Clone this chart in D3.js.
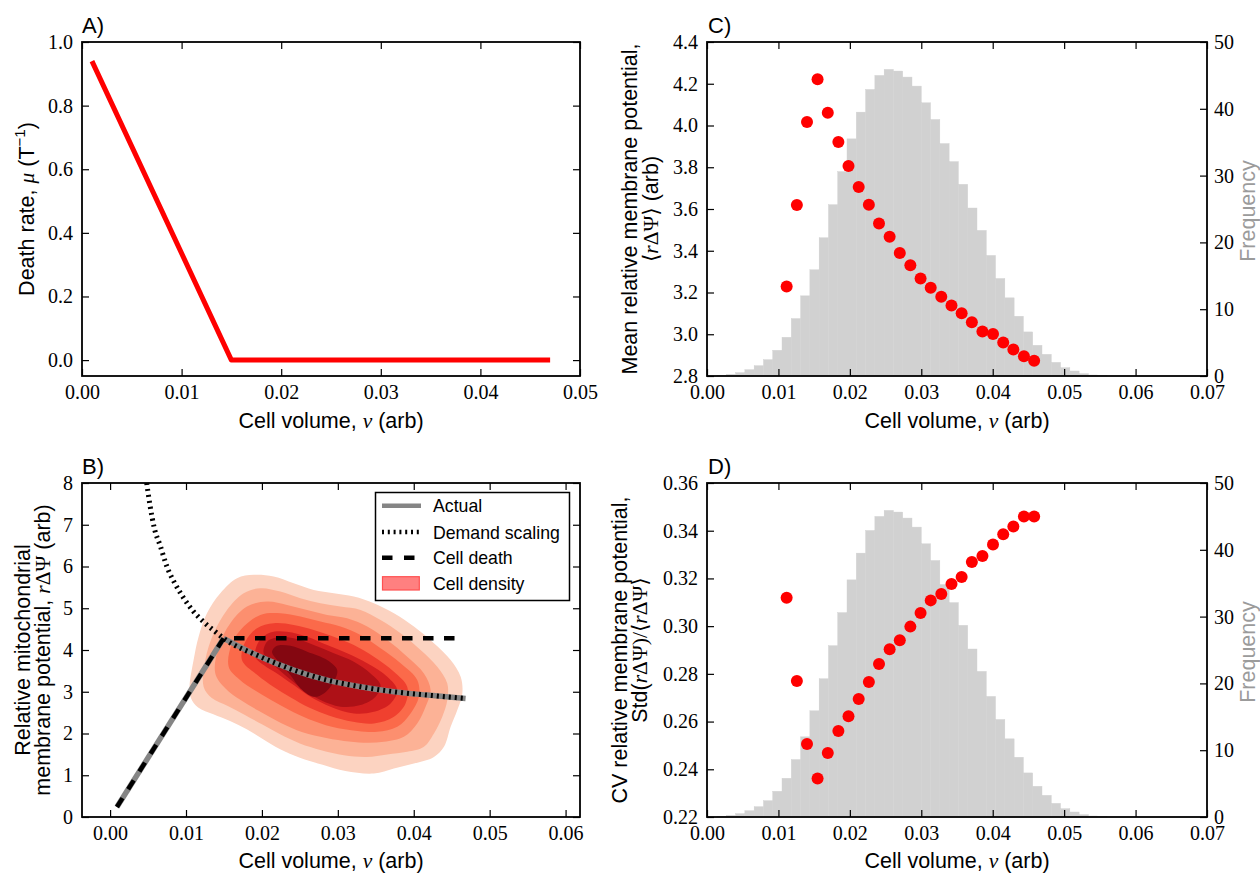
<!DOCTYPE html>
<html>
<head>
<meta charset="utf-8">
<script src="https://cdnjs.cloudflare.com/ajax/libs/d3/7.8.5/d3.min.js"></script>
<style>
  body { margin: 0; background: #fff; }
</style>
</head>
<body>
<svg width="1260" height="873"></svg>
<script>
// ---- data ----
// A) death rate
const deathVolume = [0.001, 0.015, 0.047];
const deathRate = [0.94, 0.0, 0.0];

// B) membrane potential lines
const actualVolume = [0.0009, 0.01495, 0.01979, 0.02419, 0.02858, 0.03298, 0.03738, 0.04178, 0.04683];
const actualPotential = [0.24, 4.28, 3.84, 3.52, 3.28, 3.12, 3.00, 2.92, 2.84];
const demandVolume = [0.00482, 0.00528, 0.00585, 0.0066, 0.00748, 0.00858, 0.00967, 0.0110, 0.01253,
  0.01385, 0.01495, 0.01979, 0.02419, 0.02858, 0.03298, 0.03738, 0.04178, 0.04683];
const demandPotential = [8.0, 7.44, 6.9, 6.5, 6.0, 5.58, 5.25, 4.92, 4.64,
  4.44, 4.28, 3.84, 3.52, 3.28, 3.12, 3.00, 2.92, 2.84];
const cellDeathVolume = [0.0009, 0.01495, 0.0466];
const cellDeathPotential = [0.24, 4.28, 4.28];

// B) cell density contour outlines, outermost to innermost, [volume, potential]
const densityContours = [
  [[0.01047, 3.12], [0.0110, 3.76], [0.01166, 4.32], [0.01276, 4.88], [0.01452, 5.36], [0.01672, 5.72],
   [0.01891, 5.80], [0.02155, 5.76], [0.02419, 5.60], [0.02683, 5.44], [0.02947, 5.36], [0.03211, 5.28],
   [0.03475, 5.12], [0.03739, 4.88], [0.04002, 4.56], [0.04266, 4.16], [0.04486, 3.76], [0.04618, 3.36],
   [0.0464, 2.96], [0.04574, 2.56], [0.04486, 2.16], [0.04398, 1.68], [0.04266, 1.44], [0.04002, 1.28],
   [0.03739, 1.16], [0.03475, 1.04], [0.0310, 1.10], [0.0280, 1.25], [0.0250, 1.42], [0.0224, 1.62],
   [0.0200, 1.88], [0.0180, 2.10], [0.0158, 2.30], [0.0136, 2.46], [0.0116, 2.62], [0.01065, 2.85]],
  [[0.01232, 3.12], [0.01254, 3.76], [0.01364, 4.40], [0.0154, 4.96], [0.0176, 5.36], [0.01979, 5.48],
   [0.02243, 5.40], [0.02507, 5.24], [0.02771, 5.12], [0.03035, 5.04], [0.03299, 4.96], [0.03563, 4.72],
   [0.03827, 4.40], [0.0409, 4.00], [0.0431, 3.60], [0.04442, 3.20], [0.04442, 2.80], [0.04376, 2.40],
   [0.04266, 2.00], [0.04134, 1.68], [0.03914, 1.56], [0.03651, 1.50], [0.0338, 1.44], [0.0308, 1.48],
   [0.0278, 1.60], [0.0250, 1.76], [0.0224, 1.98], [0.0200, 2.22], [0.0177, 2.45], [0.0155, 2.66],
   [0.0134, 2.85]],
  [[0.01386, 3.44], [0.0143, 4.08], [0.01584, 4.64], [0.01803, 5.04], [0.02067, 5.16], [0.02331, 5.08],
   [0.02595, 4.96], [0.02859, 4.84], [0.03123, 4.76], [0.03387, 4.56], [0.03651, 4.24], [0.03914, 3.84],
   [0.04134, 3.44], [0.04222, 3.04], [0.04156, 2.64], [0.04046, 2.24], [0.0387, 1.92], [0.03607, 1.80],
   [0.0334, 1.78], [0.0308, 1.82], [0.0277, 1.92], [0.0246, 2.08], [0.0220, 2.30], [0.0195, 2.55],
   [0.0172, 2.80], [0.0152, 3.08]],
  [[0.01562, 3.60], [0.01606, 4.16], [0.0176, 4.56], [0.01979, 4.84], [0.02243, 4.88], [0.02507, 4.80],
   [0.02771, 4.68], [0.03035, 4.56], [0.03299, 4.36], [0.03563, 4.04], [0.03827, 3.68], [0.04046, 3.28],
   [0.04068, 2.88], [0.03958, 2.48], [0.03783, 2.16], [0.03519, 2.04], [0.0326, 2.06], [0.0292, 2.16],
   [0.0262, 2.34], [0.0236, 2.56], [0.0212, 2.80], [0.0190, 3.04], [0.0170, 3.30]],
  [[0.01737, 3.76], [0.01781, 4.20], [0.01935, 4.52], [0.02155, 4.64], [0.02419, 4.60], [0.02683, 4.48],
   [0.02947, 4.32], [0.03211, 4.12], [0.03475, 3.84], [0.03739, 3.48], [0.03914, 3.12], [0.03892, 2.72],
   [0.03739, 2.40], [0.03475, 2.24], [0.0320, 2.28], [0.0290, 2.42], [0.0262, 2.62], [0.0238, 2.86],
   [0.0215, 3.12], [0.0194, 3.40]],
  [[0.01913, 3.84], [0.01957, 4.20], [0.02111, 4.42], [0.02331, 4.44], [0.02595, 4.32], [0.02859, 4.12],
   [0.03123, 3.92], [0.03387, 3.68], [0.03651, 3.36], [0.03783, 3.04], [0.03695, 2.72], [0.03475, 2.52],
   [0.03211, 2.48], [0.02903, 2.64], [0.02639, 2.88], [0.02419, 3.16], [0.02199, 3.44], [0.02023, 3.64]],
  [[0.02023, 3.92], [0.02067, 4.20], [0.02199, 4.30], [0.02419, 4.28], [0.02683, 4.12], [0.02947, 3.92],
   [0.03211, 3.72], [0.03431, 3.44], [0.03563, 3.16], [0.03497, 2.88], [0.03299, 2.68], [0.03035, 2.64],
   [0.02771, 2.80], [0.02551, 3.04], [0.02331, 3.36], [0.02155, 3.64]],
  [[0.02133, 3.96], [0.02199, 4.10], [0.02375, 4.10], [0.02595, 3.96], [0.02859, 3.76], [0.02991, 3.52],
   [0.02947, 3.24], [0.02815, 2.96], [0.02683, 2.88], [0.02507, 3.08], [0.02375, 3.40], [0.02221, 3.72]]
];
const densityColors = ['#fcd3c1', '#fcb296', '#fc8f6f', '#fb6a4a', '#f0402f', '#d42020', '#ae1117', '#840711'];

// C/D) binned statistics
const binVolume = [0.01115, 0.01258, 0.0140, 0.01548, 0.01691, 0.01839, 0.01981, 0.02124, 0.02266, 0.02408,
  0.02557, 0.02699, 0.02847, 0.0299, 0.03132, 0.0328, 0.03423, 0.03565, 0.03708, 0.03856,
  0.04004, 0.04147, 0.04289, 0.04437, 0.0458];
const meanPotential = [3.229, 3.619, 4.017, 4.221, 4.061, 3.921, 3.806, 3.705, 3.620, 3.531,
  3.467, 3.389, 3.330, 3.267, 3.223, 3.180, 3.138, 3.101, 3.057, 3.013,
  3.001, 2.961, 2.927, 2.895, 2.873];
const cvPotential = [0.3119, 0.2770, 0.2506, 0.2361, 0.2468, 0.2560, 0.2622, 0.2695, 0.2766, 0.2841,
  0.2903, 0.2941, 0.2998, 0.3055, 0.3108, 0.3135, 0.3177, 0.3206, 0.3269, 0.3294,
  0.3342, 0.3385, 0.3418, 0.3460, 0.3460];

// volume histogram (bin edges and counts)
const histEdges = [0.0014, 0.0027, 0.0040, 0.0053, 0.0066, 0.0079, 0.0092, 0.0105, 0.0118, 0.0131,
  0.0144, 0.0157, 0.0170, 0.0183, 0.0196, 0.0209, 0.0222, 0.0235, 0.0248, 0.0261,
  0.0274, 0.0287, 0.0300, 0.0313, 0.0326, 0.0339, 0.0352, 0.0365, 0.0378, 0.0391,
  0.0404, 0.0417, 0.0430, 0.0443, 0.0456, 0.0469, 0.0482, 0.0495, 0.0508, 0.0521,
  0.0534, 0.0547, 0.0560];
const histFreq = [0.1, 0.25, 0.5, 0.95, 1.55, 2.45, 3.85, 5.8, 8.6, 12.0,
  15.9, 20.7, 25.65, 30.6, 35.5, 39.5, 42.9, 45.0, 45.9, 45.65,
  44.75, 43.4, 40.9, 38.4, 34.8, 32.1, 28.7, 25.15, 21.8, 18.05,
  14.6, 11.7, 8.95, 6.6, 4.6, 3.25, 2.05, 1.25, 0.75, 0.35,
  0.15, 0.07];

// tick values
const ticksA_x = [0, 0.01, 0.02, 0.03, 0.04, 0.05];
const ticksA_y = [0, 0.2, 0.4, 0.6, 0.8, 1.0];
const ticksB_x = [0, 0.01, 0.02, 0.03, 0.04, 0.05, 0.06];
const ticksB_y = [0, 1, 2, 3, 4, 5, 6, 7, 8];
const ticksCD_x = [0, 0.01, 0.02, 0.03, 0.04, 0.05, 0.06, 0.07];
const ticksC_y = [2.8, 3.0, 3.2, 3.4, 3.6, 3.8, 4.0, 4.2, 4.4];
const ticksD_y = [0.22, 0.24, 0.26, 0.28, 0.30, 0.32, 0.34, 0.36];
const ticksFreq = [0, 10, 20, 30, 40, 50];

// ---- drawing ----
const svg = d3.select('svg');
const serif = '"Liberation Serif", "DejaVu Serif", serif';
const sans = '"Liberation Sans", Arial, sans-serif';

const colL = [82, 580], colR = [707, 1207];
const rowT = [376, 42], rowB = [817, 483];

const xA = d3.scaleLinear().domain([0, 0.05]).range(colL);
const yA = d3.scaleLinear().domain([-0.05, 1.0]).range(rowT);
const xB = d3.scaleLinear().domain([-0.0037, 0.0619]).range(colL);
const yB = d3.scaleLinear().domain([0, 8]).range(rowB);
const xC = d3.scaleLinear().domain([0, 0.07]).range(colR);
const yC = d3.scaleLinear().domain([2.8, 4.4]).range(rowT);
const fC = d3.scaleLinear().domain([0, 50]).range(rowT);
const xD = d3.scaleLinear().domain([0, 0.07]).range(colR);
const yD = d3.scaleLinear().domain([0.22, 0.36]).range(rowB);
const fD = d3.scaleLinear().domain([0, 50]).range(rowB);

const styleAxis = (g) => {
  g.select('.domain').remove();
  g.attr('font-family', serif).attr('font-size', 20);
  g.selectAll('.tick line').attr('stroke', '#000').attr('stroke-width', 1.2);
  g.selectAll('.tick text').attr('fill', '#000');
};

function frame(x, y, xTicks, yTicks, xFmt, yFmt, freq) {
  const [x0, x1] = x.range();
  const [y0, y1] = y.range();
  const g = svg.append('g');
  g.append('g').attr('transform', `translate(0,${y0})`)
    .call(d3.axisBottom(x).tickValues(xTicks).tickFormat(xFmt).tickSize(-7).tickSizeOuter(0).tickPadding(9))
    .call(styleAxis);
  g.append('g').attr('transform', `translate(0,${y1})`)
    .call(d3.axisTop(x).tickValues(xTicks).tickFormat(() => '').tickSize(-7).tickSizeOuter(0))
    .call(styleAxis);
  g.append('g').attr('transform', `translate(${x0},0)`)
    .call(d3.axisLeft(y).tickValues(yTicks).tickFormat(yFmt).tickSize(-7).tickSizeOuter(0).tickPadding(9))
    .call(styleAxis);
  if (freq) {
    g.append('g').attr('transform', `translate(${x1},0)`)
      .call(d3.axisRight(freq).tickValues(ticksFreq).tickFormat(d3.format('d')).tickSize(-7).tickSizeOuter(0).tickPadding(7))
      .call(styleAxis);
  } else {
    g.append('g').attr('transform', `translate(${x1},0)`)
      .call(d3.axisRight(y).tickValues(yTicks).tickFormat(() => '').tickSize(-7).tickSizeOuter(0))
      .call(styleAxis);
  }
  g.append('rect')
    .attr('x', x0).attr('y', y1)
    .attr('width', x1 - x0).attr('height', y0 - y1)
    .attr('fill', 'none').attr('stroke', '#000').attr('stroke-width', 1.8);
}

// label helpers: parts = [[text, kind]], kind: 's' sans, 'i' italic serif, 'm' upright serif, 'sup'
function label(x, y, rotate, parts, size, color) {
  const t = svg.append('text')
    .attr('transform', `translate(${x},${y})` + (rotate ? ' rotate(-90)' : ''))
    .attr('text-anchor', 'middle')
    .attr('font-size', size)
    .attr('fill', color || '#000')
    .attr('font-family', sans);
  parts.forEach(([txt, kind]) => {
    const s = t.append('tspan').text(txt);
    if (kind === 'i') s.attr('font-family', serif).attr('font-style', 'italic');
    if (kind === 'm') s.attr('font-family', serif);
    if (kind === 'sup') s.attr('font-size', size * 0.7).attr('dy', -size * 0.42);
    if (kind === 'unsup') s.attr('dy', size * 0.42);
  });
  return t;
}
const panelLetter = (x, y, txt) => svg.append('text').attr('x', x).attr('y', y)
  .attr('font-family', sans).attr('font-size', 22).text(txt);

const xLabelParts = [['Cell volume, ', 's'], ['v', 'i'], [' (arb)', 's']];
const LBL = 21.5;

// ---- A ----
svg.append('path')
  .datum(d3.zip(deathVolume, deathRate))
  .attr('fill', 'none').attr('stroke', '#ff0000').attr('stroke-width', 5)
  .attr('stroke-linejoin', 'round')
  .attr('d', d3.line().x(d => xA(d[0])).y(d => yA(d[1])));
frame(xA, yA, ticksA_x, ticksA_y, d3.format('.2f'), d3.format('.1f'));
panelLetter(82, 33, 'A)');
label(331, 428, false, xLabelParts, LBL);
label(34, 209, true, [['Death rate, ', 's'], ['\u03bc', 'i'], [' (T', 's'], ['\u22121', 'sup'], [')', 'unsup']], LBL);

// ---- B ----
const lineB = d3.line().x(d => xB(d[0])).y(d => yB(d[1]));
densityContours.forEach((poly, i) => {
  svg.append('path')
    .datum(poly)
    .attr('fill', densityColors[i])
    .attr('stroke', 'none')
    .attr('d', d3.line().x(d => xB(d[0])).y(d => yB(d[1])).curve(d3.curveCatmullRomClosed.alpha(0.5)));
});
const actualPts = d3.zip(actualVolume, actualPotential);
const gray = '#858585';
svg.append('path').datum(actualPts.slice(0, 2))
  .attr('fill', 'none').attr('stroke', gray).attr('stroke-width', 5.5)
  .attr('d', lineB);
svg.append('path').datum(actualPts.slice(1))
  .attr('fill', 'none').attr('stroke', gray).attr('stroke-width', 5.5)
  .attr('d', lineB.curve(d3.curveMonotoneX));
svg.append('path').datum(d3.zip(demandVolume, demandPotential))
  .attr('fill', 'none').attr('stroke', '#000').attr('stroke-width', 5)
  .attr('stroke-dasharray', '2,4')
  .attr('d', d3.line().x(d => xB(d[0])).y(d => yB(d[1])).curve(d3.curveMonotoneX));
svg.append('path').datum(d3.zip(cellDeathVolume, cellDeathPotential))
  .attr('fill', 'none').attr('stroke', '#000').attr('stroke-width', 4.5)
  .attr('stroke-dasharray', '10.5,10.5')
  .attr('d', d3.line().x(d => xB(d[0])).y(d => yB(d[1])));
frame(xB, yB, ticksB_x, ticksB_y, d3.format('.2f'), d3.format('d'));
panelLetter(82, 474, 'B)');
label(331, 868, false, xLabelParts, LBL);
label(29.5, 650, true, [['Relative mitochondrial', 's']], LBL);
label(50, 650, true, [['membrane potential, ', 's'], ['r', 'i'], ['\u0394\u03a8', 'm'], [' (arb)', 's']], LBL);

// legend
const legendItems = ['Actual', 'Demand scaling', 'Cell death', 'Cell density'];
const lg = svg.append('g');
lg.append('rect').attr('x', 375.5).attr('y', 492.5).attr('width', 194).attr('height', 108)
  .attr('fill', '#fff').attr('stroke', '#000').attr('stroke-width', 1.5);
const legY = [505.7, 532, 557.7, 583.3];
lg.append('line').attr('x1', 382).attr('x2', 421).attr('y1', legY[0]).attr('y2', legY[0])
  .attr('stroke', gray).attr('stroke-width', 4.5);
lg.append('line').attr('x1', 382).attr('x2', 421).attr('y1', legY[1]).attr('y2', legY[1])
  .attr('stroke', '#000').attr('stroke-width', 4.5).attr('stroke-dasharray', '2,3.8');
lg.append('line').attr('x1', 382).attr('x2', 421).attr('y1', legY[2]).attr('y2', legY[2])
  .attr('stroke', '#000').attr('stroke-width', 4.5).attr('stroke-dasharray', '10.5,11.5');
lg.append('rect').attr('x', 382.5).attr('y', 576.7).attr('width', 36.8).attr('height', 13.3)
  .attr('fill', '#ff8080').attr('stroke', '#ff5050').attr('stroke-width', 1.2);
lg.selectAll('text.leg').data(legendItems).join('text')
  .attr('class', 'leg')
  .attr('x', 433).attr('y', (d, i) => legY[i] + 6.5)
  .attr('font-family', sans).attr('font-size', 17.7)
  .text(d => d);

// ---- C and D ----
function statPanel(x, y, f, values, yTicks, yFmt) {
  svg.append('g').selectAll('rect')
    .data(histFreq)
    .join('rect')
    .attr('x', (d, i) => x(histEdges[i]))
    .attr('width', (d, i) => x(histEdges[i + 1]) - x(histEdges[i]))
    .attr('y', d => f(d))
    .attr('height', d => f(0) - f(d))
    .attr('fill', '#d1d1d1')
    .attr('stroke', '#d1d1d1').attr('stroke-width', 0.4);
  svg.append('g').selectAll('circle')
    .data(d3.zip(binVolume, values))
    .join('circle')
    .attr('cx', d => x(d[0])).attr('cy', d => y(d[1]))
    .attr('r', 6).attr('fill', '#ff0000');
  frame(x, y, ticksCD_x, yTicks, d3.format('.2f'), yFmt, f);
}
statPanel(xC, yC, fC, meanPotential, ticksC_y, d3.format('.1f'));
panelLetter(708, 33, 'C)');
label(957, 428, false, xLabelParts, LBL);
label(637, 209, true, [['Mean relative membrane potential,', 's']], LBL);
label(658, 209, true, [['\u27e8', 'm'], ['r', 'i'], ['\u0394\u03a8', 'm'], ['\u27e9', 'm'], [' (arb)', 's']], LBL);
label(1255, 211, true, [['Frequency', 's']], LBL, '#9b9b9b');

statPanel(xD, yD, fD, cvPotential, ticksD_y, d3.format('.2f'));
panelLetter(708, 474, 'D)');
label(957, 868, false, xLabelParts, LBL);
label(626.5, 650, true, [['CV relative membrane potential,', 's']], LBL);
label(647, 650, true, [['Std(', 's'], ['r', 'i'], ['\u0394\u03a8', 'm'], [')/\u27e8', 'm'], ['r', 'i'], ['\u0394\u03a8', 'm'], ['\u27e9', 'm']], LBL);
label(1255, 652, true, [['Frequency', 's']], LBL, '#9b9b9b');
</script>
</body>
</html>
